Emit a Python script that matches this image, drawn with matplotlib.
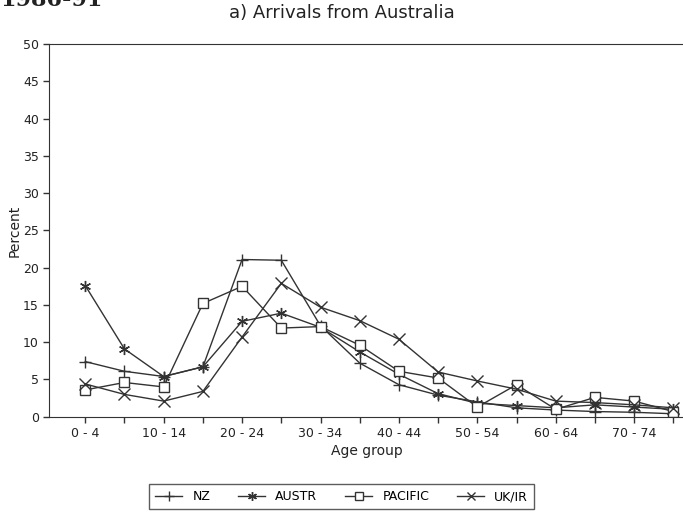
import numpy as np
import matplotlib.pyplot as plt

# age groups 0-4 ... 75+
groups = ["0 - 4", "5 - 9", "10 - 14", "15 - 19", "20 - 24", "25 - 29", "30 - 34",
          "35 - 39", "40 - 44", "45 - 49", "50 - 54", "55 - 59", "60 - 64",
          "65 - 69", "70 - 74", "75+"]
nz = [7.4, 6.1, 5.4, 6.7, 21.1, 21.0, 12.2, 7.2, 4.3, 2.9, 2.0, 1.2, 0.9, 0.7, 0.6, 0.4]
austr = [17.6, 9.1, 5.4, 6.7, 12.8, 13.9, 12.0, 8.7, 5.7, 3.1, 1.8, 1.5, 1.2, 1.6, 1.3, 1.0]
pacific = [3.6, 4.6, 4.0, 15.2, 17.5, 11.9, 12.1, 9.6, 6.1, 5.2, 1.3, 4.3, 1.0, 2.6, 2.1, 0.7]
ukir = [4.4, 3.0, 2.1, 3.4, 10.7, 17.9, 14.7, 12.9, 10.4, 6.0, 4.8, 3.7, 2.1, 1.9, 1.6, 1.2]

x = np.arange(len(groups))
col = "#333333"
plt.rcParams["font.family"] = "DejaVu Sans"

fig = plt.figure(figsize=(6.83, 5.19), dpi=100)
ax = fig.add_axes([0.072, 0.197, 0.93, 0.718])

ax.plot(x, nz, color=col, lw=1, marker="+", ms=9, mew=1, label="NZ")
ax.plot(x, austr, color=col, lw=1, marker=(6, 2, 0), ms=8, mew=1, label="AUSTR")
ax.plot(x, pacific, color=col, lw=1, marker="s", ms=7.5, mfc="white", mec=col, mew=1, label="PACIFIC")
ax.plot(x, ukir, color=col, lw=1, marker="x", ms=8, mew=1, label="UK/IR")

ax.set_xlim(-0.92, 15.28)
ax.set_ylim(0, 50)
ax.set_yticks(np.arange(0, 51, 5))
ax.set_xticks(x)
ax.set_xticklabels([g if i % 2 == 0 and i < 15 else "" for i, g in enumerate(groups)])
ax.tick_params(axis="both", length=4, width=1, color=col, labelsize=9, labelcolor="#222222")
ax.spines["right"].set_visible(False)
for s in ["left", "bottom", "top"]:
    ax.spines[s].set_color(col)

ax.set_ylabel("Percent", fontsize=10, color="#222222", labelpad=1)
ax.set_xlabel("Age group", fontsize=10, color="#222222", labelpad=3)
fig.text(0.5, 0.975, "a) Arrivals from Australia", ha="center", va="center",
         fontsize=13, color="#222222")
fig.text(0.0, 1.0, "1986-91", ha="left", va="center", fontsize=16,
         family="serif", weight="bold", color="#222222")

leg = fig.legend(loc="center", bbox_to_anchor=(0.5, 0.043), ncol=4, fontsize=9,
                 frameon=True, fancybox=False, edgecolor=col, handlelength=2.2,
                 columnspacing=2.2, borderpad=0.5, markerscale=0.8)
leg.get_frame().set_linewidth(1)

fig.savefig("out.png", dpi=100)
